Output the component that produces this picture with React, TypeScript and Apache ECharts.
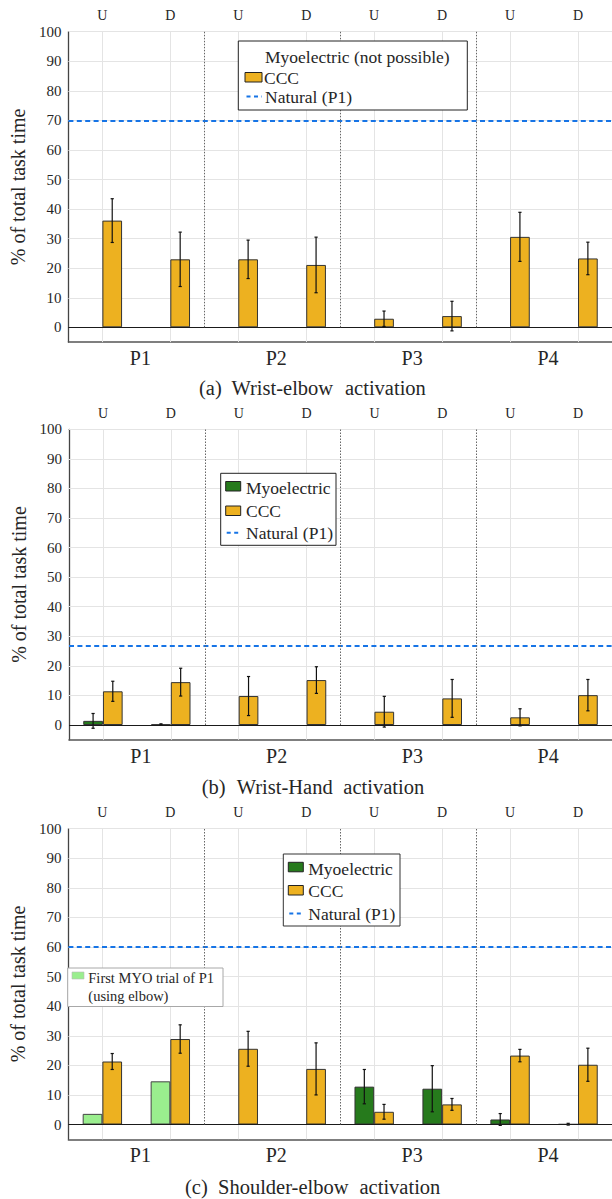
import React, { useEffect, useRef } from "react";
import * as echarts from "echarts";

// ---------- data ----------
const slots = ["U", "D", "U", "D", "U", "D", "U", "D"];
const participants = ["P1", "P2", "P3", "P4"];

// (a) Wrist-elbow activation
const myoA: (number | null)[] = [null, null, null, null, null, null, null, null];
const myoErrA: (number | null)[] = [null, null, null, null, null, null, null, null];
const cccA = [36.1, 23.0, 23.0, 21.1, 2.9, 3.8, 30.6, 23.3];
const cccErrA = [7.4, 9.2, 6.5, 9.4, 2.6, 5.0, 8.3, 5.5];
const naturalA = 70;

// (b) Wrist-Hand activation
const myoB: (number | null)[] = [1.4, 0.2, null, null, null, null, null, null];
const myoErrB: (number | null)[] = [2.5, 0.2, null, null, null, null, null, null];
const cccB = [11.4, 14.5, 9.8, 15.2, 4.5, 9.0, 2.6, 10.1];
const cccErrB = [3.4, 4.7, 6.6, 4.5, 5.2, 6.4, 2.9, 5.3];
const naturalB = 26.7;

// (c) Shoulder-elbow activation
const myoC: (number | null)[] = [3.6, 14.6, null, null, 12.8, 12.1, 1.7, 0.1];
const myoErrC: (number | null)[] = [null, null, null, null, 5.8, 7.8, 2.0, 0.3];
const firstTrialC = [true, true, false, false, false, false, false, false];
const cccC = [21.3, 28.9, 25.6, 18.8, 4.3, 6.8, 23.3, 20.2];
const cccErrC = [2.7, 4.8, 5.9, 8.8, 2.5, 2.0, 2.1, 5.6];
const naturalC = 60;

const gridValues = [10, 20, 30, 40, 50, 60, 70, 80, 90, 100];
const slotCenters = [0.5, 1.5, 2.5, 3.5, 4.5, 5.5, 6.5, 7.5];
const dividers = [2, 4, 6];

// ---------- style ----------
const FONT = "'Liberation Serif', 'Times New Roman', serif";
const TXT = "#262626";
const ORANGE = "#EDB120";
const GREEN = "#267A1C";
const LIGHTGREEN = "#9AEE8E";
const BLUE = "#1674E6";
const BAR_W = 19.7;

const panels = [
  { myo: myoA, myoErr: myoErrA, ccc: cccA, cccErr: cccErrA, natural: naturalA, first: null as boolean[] | null },
  { myo: myoB, myoErr: myoErrB, ccc: cccB, cccErr: cccErrB, natural: naturalB, first: null as boolean[] | null },
  { myo: myoC, myoErr: myoErrC, ccc: cccC, cccErr: cccErrC, natural: naturalC, first: firstTrialC },
];

const layouts = [
  { left: 67.6, top: 31.7, width: 545.6, height: 310.4 },
  { left: 69.0, top: 429.3, width: 545.6, height: 310.5 },
  { left: 67.6, top: 828.7, width: 545.6, height: 310.6 },
];

function errSeries(vals: (number | null)[], errs: (number | null)[], xIdx: number, yIdx: number, off: number) {
  const data: number[][] = [];
  vals.forEach((v, i) => {
    const e = errs[i];
    if (v != null && e != null) data.push([i, v, e]);
  });
  return {
    type: "custom",
    xAxisIndex: xIdx,
    yAxisIndex: yIdx,
    z: 4,
    silent: true,
    encode: { x: 0, y: 1 },
    data,
    renderItem: (params: any, api: any) => {
      const i = api.value(0);
      const m = api.value(1);
      const e = api.value(2);
      const top = api.coord([i, m + e]);
      const bot = api.coord([i, m - e]);
      const x = top[0] + off;
      const st = { stroke: "#111", lineWidth: 1.2 };
      return {
        type: "group",
        children: [
          { type: "line", shape: { x1: x, y1: top[1], x2: x, y2: bot[1] }, style: st },
          { type: "line", shape: { x1: x - 1.6, y1: top[1], x2: x + 1.6, y2: top[1] }, style: st },
          { type: "line", shape: { x1: x - 1.6, y1: bot[1], x2: x + 1.6, y2: bot[1] }, style: st },
        ],
      };
    },
  };
}

function buildOption() {
  const grid: any[] = [];
  const xAxis: any[] = [];
  const yAxis: any[] = [];
  const series: any[] = [];

  panels.forEach((p, k) => {
    grid.push({ ...layouts[k], containLabel: false });
    const xTop = k * 3;
    const xVal = k * 3 + 2;
    xAxis.push({
      type: "category",
      gridIndex: k,
      position: "top",
      data: slots,
      axisLine: { show: false },
      axisTick: { show: false },
      splitLine: { show: false },
      axisLabel: { fontSize: 14, fontFamily: FONT, color: TXT, margin: 9 },
    });
    xAxis.push({
      type: "category",
      gridIndex: k,
      position: "bottom",
      data: participants,
      axisLine: { show: true, onZero: false, lineStyle: { color: "#555", width: 1.6 } },
      axisTick: { show: false },
      splitLine: { show: false },
      axisLabel: { fontSize: 20, fontFamily: FONT, color: TXT, margin: 6, padding: [0, 0, 0, 8] },
    });
    xAxis.push({ type: "value", gridIndex: k, min: 0, max: 8, show: false, position: "bottom" });
    yAxis.push({
      type: "value",
      gridIndex: k,
      min: -5,
      max: 100,
      interval: 5,
      axisLine: { show: true, onZero: false, lineStyle: { color: "#444", width: 1.3 } },
      axisTick: { show: false },
      splitLine: { show: false },
      axisLabel: {
        formatter: (v: number) => (v >= 0 && v % 10 === 0 ? String(v) : ""),
        fontSize: 15,
        fontFamily: FONT,
        color: TXT,
        margin: 7,
      },
      name: "% of total task time",
      nameLocation: "middle",
      nameGap: 38,
      nameTextStyle: { fontSize: 20, fontFamily: FONT, color: TXT },
    });

    series.push({
      type: "bar",
      name: "Myoelectric",
      xAxisIndex: xTop,
      yAxisIndex: k,
      barWidth: BAR_W,
      barGap: "0%",
      z: 2,
      silent: true,
      itemStyle: { color: GREEN, borderColor: "#333", borderWidth: 1 },
      data: p.myo.map((v, i) =>
        v == null
          ? "-"
          : p.first && p.first[i]
          ? { value: v, itemStyle: { color: LIGHTGREEN, borderColor: "#444" } }
          : v
      ),
    });
    series.push({
      type: "bar",
      name: "CCC",
      xAxisIndex: xTop,
      yAxisIndex: k,
      barWidth: BAR_W,
      barGap: "0%",
      z: 2,
      silent: true,
      itemStyle: { color: ORANGE, borderColor: "#333", borderWidth: 1 },
      data: p.ccc,
    });
    series.push(errSeries(p.myo, p.myoErr, xTop, k, -BAR_W / 2));
    series.push(errSeries(p.ccc, p.cccErr, xTop, k, BAR_W / 2));

    // gridlines
    series.push({
      type: "line",
      xAxisIndex: xVal,
      yAxisIndex: k,
      data: [[0, -5]],
      symbol: "none",
      showSymbol: false,
      lineStyle: { opacity: 0 },
      silent: true,
      markLine: {
        silent: true,
        z: 1,
        symbol: ["none", "none"],
        label: { show: false },
        lineStyle: { color: "#e4e4e4", width: 1, type: "solid" },
        data: [
          ...gridValues.map((v) => ({ yAxis: v })),
          ...slotCenters.map((v) => ({ xAxis: v })),
        ],
      },
    });
    // zero line, natural line, dividers
    series.push({
      type: "line",
      xAxisIndex: xVal,
      yAxisIndex: k,
      data: [[0, -5]],
      symbol: "none",
      showSymbol: false,
      lineStyle: { opacity: 0 },
      silent: true,
      markLine: {
        silent: true,
        z: 5,
        symbol: ["none", "none"],
        label: { show: false },
        data: [
          { yAxis: 0, lineStyle: { color: "#1a1a1a", width: 1.2, type: "solid" } },
          { yAxis: p.natural, lineStyle: { color: BLUE, width: 2, type: [5, 3.4] } },
          ...dividers.map((d) => [
            { coord: [d, 0], lineStyle: { color: "#666", width: 1, type: [1.5, 1.5] } },
            { coord: [d, 100] },
          ]),
        ],
      },
    });
  });

  const graphic: any[] = [];
  const txt = (x: number, y: number, text: string, size: number, align = "left") => ({
    type: "text",
    x,
    y,
    z: 101,
    style: {
      text,
      fontSize: size,
      fontFamily: FONT,
      fill: TXT,
      textAlign: align,
      align,
      textVerticalAlign: "middle",
      verticalAlign: "middle",
    },
  });
  const box = (x: number, y: number, w: number, h: number, stroke: string) => ({
    type: "rect",
    z: 100,
    shape: { x, y, width: w, height: h },
    style: { fill: "#fff", stroke, lineWidth: 1 },
  });
  const swatch = (x: number, y: number, w: number, h: number, color: string) => ({
    type: "rect",
    z: 101,
    shape: { x, y, width: w, height: h },
    style: { fill: color, stroke: "#222", lineWidth: 1 },
  });
  const dash = (x1: number, x2: number, y: number) => ({
    type: "line",
    z: 101,
    shape: { x1, y1: y, x2, y2: y },
    style: { stroke: BLUE, lineWidth: 2, lineDash: [4, 3.5] },
  });

  // legend (a)
  graphic.push(box(238.3, 41, 229, 69, "#222"));
  graphic.push(txt(265, 57, "Myoelectric (not possible)", 17.5));
  graphic.push(swatch(245, 72.5, 17, 9.5, ORANGE));
  graphic.push(txt(264, 77.5, "CCC", 17.5));
  graphic.push(dash(246.5, 262, 96.5));
  graphic.push(txt(265, 97, "Natural (P1)", 17.5));

  // legend (b)
  graphic.push(box(220.7, 473.3, 115.3, 72, "#222"));
  graphic.push(swatch(225.7, 481.5, 15, 9.5, GREEN));
  graphic.push(txt(246, 488.3, "Myoelectric", 17.5));
  graphic.push(swatch(225.7, 506, 15, 9.5, ORANGE));
  graphic.push(txt(246, 511, "CCC", 17.5));
  graphic.push(dash(226.7, 240, 532.7));
  graphic.push(txt(246, 533.3, "Natural (P1)", 17.5));

  // legend (c)
  graphic.push(box(283.3, 854, 116.7, 72, "#333"));
  graphic.push(swatch(288.3, 862.3, 15, 9.5, GREEN));
  graphic.push(txt(308.3, 869, "Myoelectric", 17.5));
  graphic.push(swatch(288.3, 885.5, 15, 9.5, ORANGE));
  graphic.push(txt(308.3, 891, "CCC", 17.5));
  graphic.push(dash(289.3, 302.5, 913.5));
  graphic.push(txt(308.3, 914, "Natural (P1)", 17.5));

  // annotation (c)
  graphic.push(box(67.7, 968, 155.3, 38.5, "#a8a8a8"));
  graphic.push({
    type: "rect",
    z: 101,
    shape: { x: 72, y: 972, width: 12, height: 7 },
    style: { fill: LIGHTGREEN, stroke: "#bbb", lineWidth: 0.6 },
  });
  graphic.push(txt(88.3, 977.5, "First MYO trial of P1", 14.5));
  graphic.push(txt(88.3, 995.5, "(using elbow)", 14.5));

  // captions
  const captions = [
    { y: 388, parts: [["(a)", 199], ["Wrist-elbow", 231.5], ["activation", 345]] },
    { y: 786.5, parts: [["(b)", 201.7], ["Wrist-Hand", 236.7], ["activation", 343.3]] },
    { y: 1186.5, parts: [["(c)", 185], ["Shoulder-elbow", 218], ["activation", 359.5]] },
  ];
  captions.forEach((c) =>
    c.parts.forEach(([t, x]) => graphic.push(txt(x as number, c.y, t as string, 20.5)))
  );

  return {
    animation: false,
    backgroundColor: "#fff",
    textStyle: { fontFamily: FONT },
    grid,
    xAxis,
    yAxis,
    series,
    graphic,
  };
}

export default function App() {
  const ref = useRef<HTMLDivElement>(null);
  useEffect(() => {
    if (!ref.current) return;
    const chart = echarts.init(ref.current, undefined, { renderer: "svg" });
    chart.setOption(buildOption() as any);
    return () => chart.dispose();
  }, []);
  return (
    <div
      ref={ref}
      style={{ position: "absolute", left: 0, top: 0, width: 612, height: 1199, background: "#fff" }}
    />
  );
}
